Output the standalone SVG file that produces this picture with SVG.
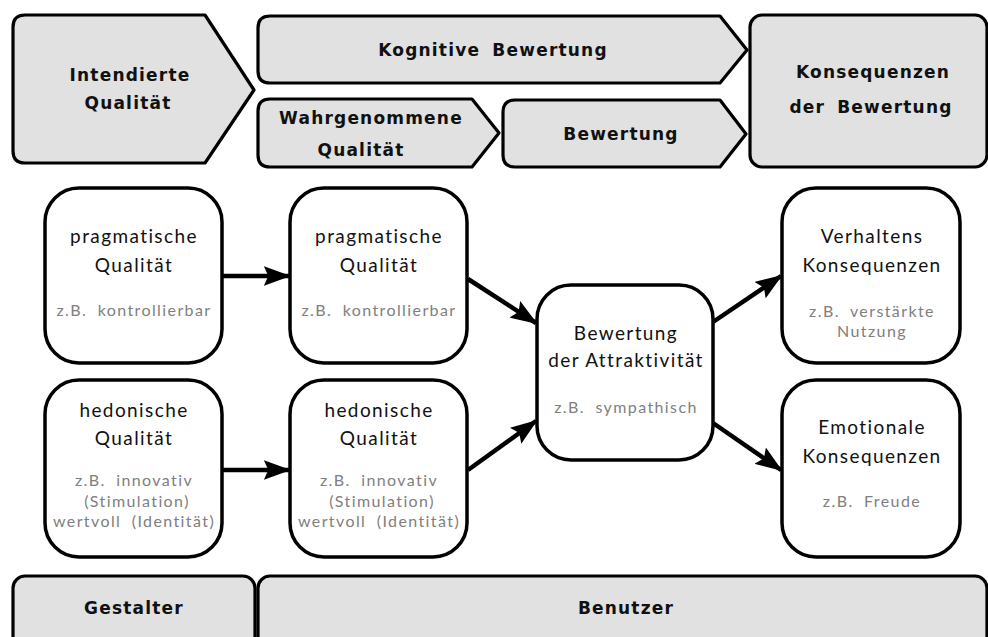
<svg xmlns="http://www.w3.org/2000/svg" width="988" height="637" viewBox="0 0 988 637">
  <defs>
    <marker id="arrow" markerWidth="6" markerHeight="4.4" refX="5.6" refY="2.2" orient="auto" markerUnits="strokeWidth">
      <path d="M0,0 L6,2.2 L0,4.4 L1,2.2 Z" fill="#000"/>
    </marker>
    <style>
      .band { fill: #e0e1e0; stroke: #000; stroke-width: 3.2; stroke-linejoin: round; }
      .box { fill: #fff; stroke: #000; stroke-width: 3.5; }
      .head { font-family: "DejaVu Sans", "Liberation Sans", sans-serif; font-weight: bold; font-size: 17px; letter-spacing: 1.2px; word-spacing: 5px; fill: #111; text-anchor: middle; }
      .lbl { font-family: "Lato", "Open Sans", sans-serif; font-weight: 400; font-size: 19px; letter-spacing: 1.4px; fill: #111; text-anchor: middle; }
      .ex { font-family: "Lato", "Open Sans", sans-serif; font-weight: 400; font-size: 16px; letter-spacing: 1.4px; word-spacing: 5px; fill: #808080; text-anchor: middle; }
      .conn line { stroke: #000; stroke-width: 4.5; marker-end: url(#arrow); }
    </style>
  </defs>

  <!-- header bands -->
  <g id="intendierte">
    <path class="band" d="M25,15 H205 L254,90 L205,163 H25 Q13,163 13,151 V27 Q13,15 25,15 Z"/>
    <text class="head" x="130" y="81">Intendierte</text>
    <text class="head" x="128" y="109">Qualität</text>
  </g>
  <g id="kognitive">
    <path class="band" d="M270,16 H720 L747,50 L720,83 H270 Q258,83 258,71 V28 Q258,16 270,16 Z"/>
    <text class="head" x="493" y="56">Kognitive Bewertung</text>
  </g>
  <g id="wahrgenommene">
    <path class="band" d="M270,99 H472 L499,133 L472,167 H270 Q258,167 258,155 V111 Q258,99 270,99 Z"/>
    <text class="head" x="371" y="124">Wahrgenommene</text>
    <text class="head" x="361" y="156">Qualität</text>
  </g>
  <g id="bewertung">
    <path class="band" d="M515,100 H720 L746,134 L720,167 H515 Q503,167 503,155 V112 Q503,100 515,100 Z"/>
    <text class="head" x="621" y="140">Bewertung</text>
  </g>
  <g id="konsequenzen">
    <rect class="band" x="750" y="15" width="237" height="152" rx="12"/>
    <text class="head" x="873" y="78">Konsequenzen</text>
    <text class="head" x="871" y="113">der Bewertung</text>
  </g>

  <!-- quality and consequence boxes -->
  <g id="prag-intendiert">
    <rect class="box" x="45" y="188" width="177" height="175" rx="34"/>
    <text class="lbl" x="134" y="243">pragmatische</text>
    <text class="lbl" x="134" y="272">Qualität</text>
    <text class="ex" x="134" y="316">z.B. kontrollierbar</text>
  </g>
  <g id="hedo-intendiert">
    <rect class="box" x="45" y="380" width="177" height="177" rx="34"/>
    <text class="lbl" x="134" y="417">hedonische</text>
    <text class="lbl" x="134" y="445">Qualität</text>
    <text class="ex" x="134" y="486">z.B. innovativ</text>
    <text class="ex" x="137" y="507">(Stimulation)</text>
    <text class="ex" x="134" y="527">wertvoll (Identität)</text>
  </g>
  <g id="prag-wahrgenommen">
    <rect class="box" x="290" y="188" width="177" height="175" rx="34"/>
    <text class="lbl" x="379" y="243">pragmatische</text>
    <text class="lbl" x="379" y="272">Qualität</text>
    <text class="ex" x="379" y="316">z.B. kontrollierbar</text>
  </g>
  <g id="hedo-wahrgenommen">
    <rect class="box" x="290" y="380" width="177" height="177" rx="34"/>
    <text class="lbl" x="379" y="417">hedonische</text>
    <text class="lbl" x="379" y="445">Qualität</text>
    <text class="ex" x="379" y="486">z.B. innovativ</text>
    <text class="ex" x="382" y="507">(Stimulation)</text>
    <text class="ex" x="379" y="527">wertvoll (Identität)</text>
  </g>
  <g id="attraktivitaet">
    <rect class="box" x="537" y="285" width="176" height="175" rx="34"/>
    <text class="lbl" x="626" y="340">Bewertung</text>
    <text class="lbl" x="626" y="367">der Attraktivität</text>
    <text class="ex" x="626" y="413">z.B. sympathisch</text>
  </g>
  <g id="verhalten">
    <rect class="box" x="782" y="188" width="178" height="175" rx="34"/>
    <text class="lbl" x="872" y="243">Verhaltens</text>
    <text class="lbl" x="872" y="272">Konsequenzen</text>
    <text class="ex" x="872" y="317">z.B. verstärkte</text>
    <text class="ex" x="872" y="337">Nutzung</text>
  </g>
  <g id="emotion">
    <rect class="box" x="782" y="380" width="178" height="177" rx="34"/>
    <text class="lbl" x="872" y="434">Emotionale</text>
    <text class="lbl" x="872" y="463">Konsequenzen</text>
    <text class="ex" x="872" y="507">z.B. Freude</text>
  </g>

  <!-- bottom bands -->
  <g id="gestalter">
    <rect class="band" x="13" y="576" width="242" height="80" rx="12"/>
    <text class="head" x="134" y="614">Gestalter</text>
  </g>
  <g id="benutzer">
    <rect class="band" x="258" y="576" width="729" height="80" rx="12"/>
    <text class="head" x="626" y="614">Benutzer</text>
  </g>

  <!-- connectors -->
  <g class="conn">
    <line x1="222" y1="276" x2="289" y2="276"/>
    <line x1="222" y1="470" x2="289" y2="470"/>
    <line x1="468" y1="279" x2="536" y2="323"/>
    <line x1="468" y1="470" x2="536" y2="421"/>
    <line x1="713" y1="322" x2="781" y2="276"/>
    <line x1="713" y1="423" x2="781" y2="470"/>
  </g>
</svg>
